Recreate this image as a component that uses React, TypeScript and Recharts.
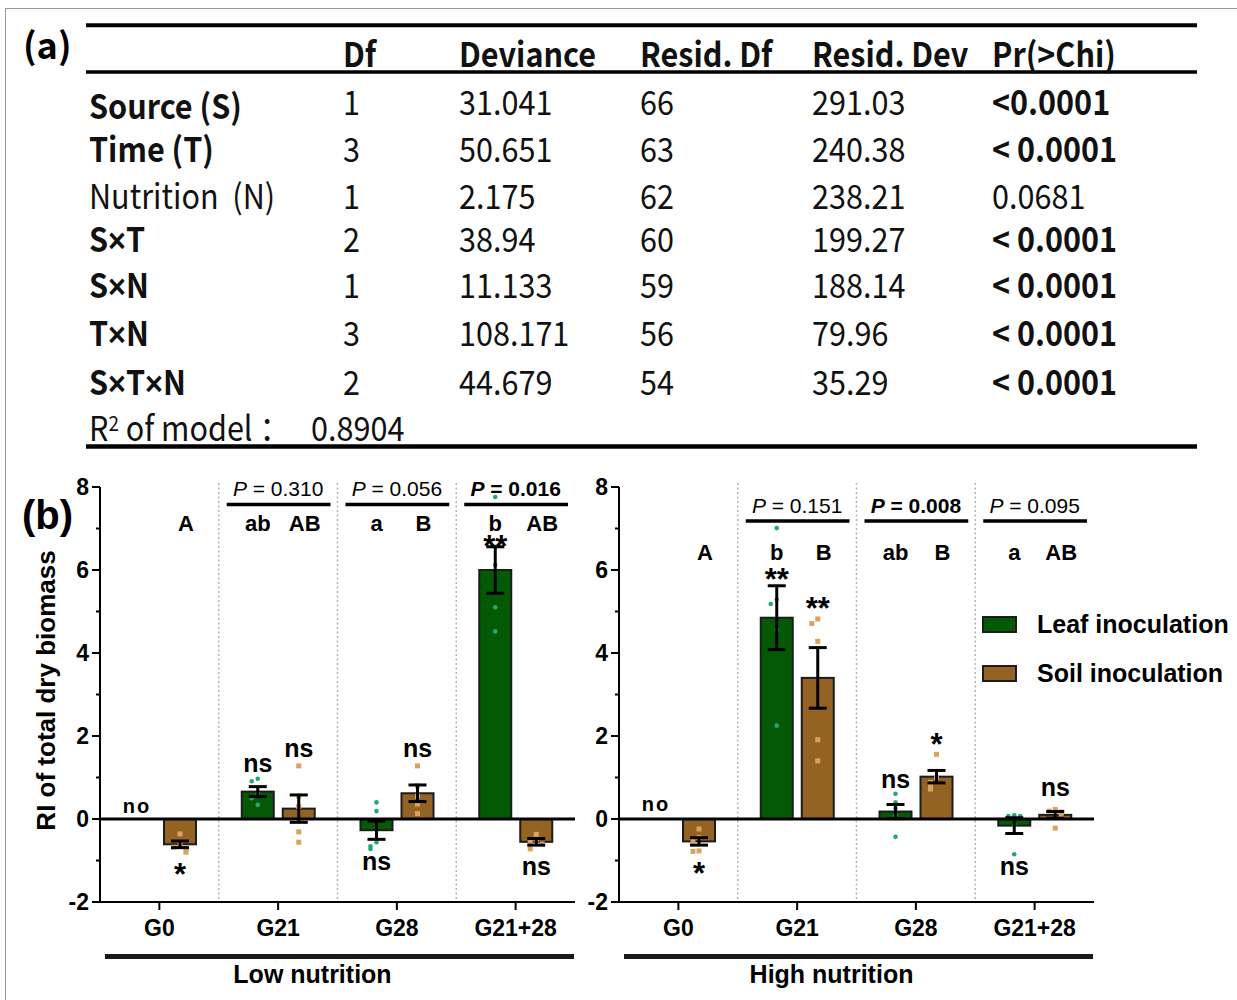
import React from 'react';
import { BarChart, Bar, XAxis, YAxis, ErrorBar, ReferenceLine, ReferenceArea, Legend } from 'recharts';

const CHART_FONT = '"Liberation Sans", Arial, Helvetica, sans-serif';
const TABLE_FONT = '"Noto Sans CJK SC", "Noto Sans", sans-serif';

// ---------- panel (b) data ----------
const groups = ['G0', 'G21', 'G28', 'G21+28'];
const seriesNames = ['Leaf inoculation', 'Soil inoculation'];
const leafColor = '#045a04';
const soilColor = '#946222';
const leafDotColor = '#22a673';
const soilDotColor = '#d9a35e';
const yTicks = [-2, -1, 0, 1, 2, 3, 4, 5, 6, 7, 8];
const Y_MIN = -2;
const Y_MAX = 8;

// Low nutrition
const lowLeafMean = [0, 0.66, -0.27, 6.0];
const lowLeafSE = [0, 0.12, 0.22, 0.56];
const lowSoilMean = [-0.61, 0.25, 0.62, -0.55];
const lowSoilSE = [0.08, 0.33, 0.2, 0.08];
const lowLeafPoints = [[], [0.97, 0.91, 0.61, 0.5, 0.34], [0.4, 0.19, -0.56, -0.66, -0.72], [7.76, 6.56, 6.12, 5.1, 4.52]];
const lowSoilPoints = [[-0.36, -0.6, -0.68, -0.72, -0.8], [1.28, 0.55, 0.3, -0.31, -0.56], [1.28, 0.8, 0.55, 0.36, 0.13], [-0.37, -0.5, -0.55, -0.6, -0.72]];
const lowLeafSig = ['no', 'ns', 'ns', '**'];
const lowLeafSigY = [0.27, 1.3, -1.07, 6.72];
const lowSoilSig = ['*', 'ns', 'ns', 'ns'];
const lowSoilSigY = [-1.17, 1.66, 1.66, -1.17];
const lowLeafLetters = ['', 'ab', 'a', 'b'];
const lowSoilLetters = ['A', 'AB', 'B', 'AB'];
const lowLetterY = 6.93;
const lowPValues = ['', '0.310', '0.056', '0.016'];
const lowPBold = [false, false, false, true];
const lowPLineY = 7.58;

// High nutrition
const highLeafMean = [0, 4.85, 0.18, -0.16];
const highLeafSE = [0, 0.77, 0.17, 0.19];
const highSoilMean = [-0.54, 3.4, 1.02, 0.1];
const highSoilSE = [0.09, 0.73, 0.15, 0.08];
const highLeafPoints = [[], [7.01, 5.29, 5.18, 4.56, 2.25], [0.61, 0.4, 0.26, 0.09, -0.43], [0.09, 0.07, 0.07, -0.16, -0.85]];
const highSoilPoints = [[-0.24, -0.45, -0.53, -0.77, -0.78], [4.82, 4.71, 4.28, 1.91, 1.4], [1.56, 1.0, 0.88, 0.8, 0.72], [0.23, 0.19, 0.17, 0.1, -0.22]];
const highLeafSig = ['no', '**', 'ns', 'ns'];
const highLeafSigY = [0.32, 5.92, 0.92, -1.18];
const highSoilSig = ['*', '**', '*', 'ns'];
const highSoilSigY = [-1.16, 5.22, 1.94, 0.72];
const highLeafLetters = ['', 'b', 'ab', 'a'];
const highSoilLetters = ['A', 'B', 'B', 'AB'];
const highLetterY = 6.25;
const highPValues = ['', '0.151', '0.008', '0.095'];
const highPBold = [false, false, true, false];
const highPLineY = 7.18;

// ---------- panel (a) table ----------
const tableHeaders = ['', 'Df', 'Deviance', 'Resid. Df', 'Resid. Dev', 'Pr(>Chi)'];
const termLabels = ['Source (S)', 'Time (T)', 'Nutrition  (N)', 'S×T', 'S×N', 'T×N', 'S×T×N'];
const termBold = [true, true, false, true, true, true, true];
const dfValues = ['1', '3', '1', '2', '1', '3', '2'];
const devianceValues = ['31.041', '50.651', '2.175', '38.94', '11.133', '108.171', '44.679'];
const residDfValues = ['66', '63', '62', '60', '59', '56', '54'];
const residDevValues = ['291.03', '240.38', '238.21', '199.27', '188.14', '79.96', '35.29'];
const chiValues = ['<0.0001', '< 0.0001', '0.0681', '< 0.0001', '< 0.0001', '< 0.0001', '< 0.0001'];
const chiBold = [true, true, false, true, true, true, true];
const r2Value = '0.8904';

// ---------- helpers ----------
function makeToY(props: any, mean: number) {
  const bg = props.background;
  if (bg && typeof bg.y === 'number' && bg.height) {
    return (v: number) => bg.y + ((Y_MAX - v) / (Y_MAX - Y_MIN)) * bg.height;
  }
  const { y, height } = props;
  const top = Math.min(y, y + height);
  const bottom = Math.max(y, y + height);
  const h = Math.abs(height);
  const zeroY = mean >= 0 ? bottom : top;
  const ppu = mean !== 0 && h > 0 ? h / Math.abs(mean) : 41.5;
  return (v: number) => zeroY - v * ppu;
}

function sigText(label: string, cx: number, centerPx: number, key: string) {
  const isStar = label.includes('*');
  const isNo = label === 'no';
  const fs = isStar ? 31 : isNo ? 20 : 25;
  const base = isStar ? centerPx + 17 : isNo ? centerPx + 5.5 : centerPx + 7;
  return (
    <text key={key} x={cx + (isNo ? -2 : 0)} y={base} textAnchor="middle"
      style={{ fontFamily: CHART_FONT, fontWeight: 700, fontSize: fs, letterSpacing: isNo ? 2 : 0 }} fill="#000">{label}</text>
  );
}

function makeBarShape(fill: string, dotColor: string, square: boolean, means: number[], points: number[][],
  sig: string[], sigY: number[], letters: string[], letterY: number, letterDx: number) {
  return (props: any) => {
    const { x, y, width, height, index } = props;
    const mean = means[index];
    const toY = makeToY(props, mean);
    const cx = x + width / 2;
    const top = Math.min(y, y + height);
    const h = Math.abs(height);
    const placed: { y: number }[] = [];
    const offs = [0, -6, 6, -12, 12];
    const dots = (points[index] || []).map((v, k) => {
      const py = toY(v);
      const near = placed.filter((q) => Math.abs(q.y - py) < 5).length;
      placed.push({ y: py });
      const px = cx + offs[Math.min(near, offs.length - 1)];
      return square
        ? <rect key={'d' + k} x={px - 2.5} y={py - 2.5} width={5} height={5} fill={dotColor} />
        : <circle key={'d' + k} cx={px} cy={py} r={2.3} fill={dotColor} />;
    });
    return (
      <g>
        {h > 0.5 && <rect x={x} y={top} width={width} height={h} fill={fill} stroke="#1c1c1c" strokeWidth={2} />}
        {dots}
        {sig[index] ? sigText(sig[index], cx, toY(sigY[index]), 's') : null}
        {letters[index] ? (
          <text x={cx + letterDx} y={toY(letterY)} textAnchor="middle"
            style={{ fontFamily: CHART_FONT, fontWeight: 700, fontSize: 22 }} fill="#000">{letters[index]}</text>
        ) : null}
      </g>
    );
  };
}

const SeparatorShape = (props: any) => {
  const { x, y, height } = props;
  return <line x1={x} x2={x} y1={y - 4} y2={y + height} stroke="#b3b3b3" strokeWidth={1.5} strokeDasharray="2 2.5" />;
};

function makePShape(value: string, bold: boolean) {
  return (props: any) => {
    const { x, y, width, height } = props;
    const ly = y + height;
    return (
      <g>
        <line x1={x + 8} x2={x + width - 7} y1={ly} y2={ly} stroke="#000" strokeWidth={3.5} />
        <text x={x + width / 2} y={ly - 8} textAnchor="middle"
          style={{ fontFamily: CHART_FONT, fontSize: 21, fontWeight: bold ? 700 : 400 }} fill="#000">
          <tspan style={{ fontStyle: 'italic' }}>P</tspan>{' = ' + value}
        </text>
      </g>
    );
  };
}

const XTick = (props: any) => {
  const { x, y, payload } = props;
  return (
    <text x={x} y={y} dy={24} textAnchor="middle" style={{ fontFamily: CHART_FONT, fontWeight: 700, fontSize: 23 }} fill="#000">
      {payload.value}
    </text>
  );
};

const YTick = (props: any) => {
  const { x, y, payload } = props;
  const v = Number(payload.value);
  const axisX = x + 12;
  const major = v % 2 === 0;
  return (
    <g>
      <line x1={axisX - (major ? 8 : 4)} x2={axisX} y1={y} y2={y} stroke="#000" strokeWidth={2} />
      {major && (
        <text x={x + 1} y={y + 8} textAnchor="end"
          style={{ fontFamily: CHART_FONT, fontWeight: 700, fontSize: '23px' }} fill="#000">
          {String(v)}
        </text>
      )}
    </g>
  );
};

function makeGroupLabel(text: string) {
  return (props: any) => {
    const vb = props.viewBox && typeof props.viewBox.x === 'number' ? props.viewBox : { x: 100, y: 902, width: 475, height: 98 };
    return (
      <g>
        <rect x={vb.x + 5} y={vb.y + 52} width={vb.width - 6} height={5} fill="#1a1a1a" />
        <text x={vb.x + vb.width / 2 - 25} y={vb.y + 81} textAnchor="middle"
          style={{ fontFamily: CHART_FONT, fontWeight: 700, fontSize: 25 }} fill="#000">{text}</text>
      </g>
    );
  };
}

const YLabel = (props: any) => {
  const vb = props.viewBox && typeof props.viewBox.x === 'number' ? props.viewBox : { x: 20, y: 487, width: 80, height: 415 };
  const cx = vb.x + 26;
  const cy = vb.y + vb.height / 2 - 4;
  return (
    <text x={cx} y={cy} transform={`rotate(-90 ${cx} ${cy})`} textAnchor="middle" dominantBaseline="central"
      style={{ fontFamily: CHART_FONT, fontWeight: 700, fontSize: 26 }} fill="#000">RI of total dry biomass</text>
  );
};

const renderLegend = (props: any) => {
  const items = props.payload || [];
  return (
    <div style={{ fontFamily: CHART_FONT, fontWeight: 700, fontSize: 25, color: '#000' }}>
      {items.map((it: any, i: number) => (
        <div key={i} style={{ display: 'flex', alignItems: 'center', height: 17, marginBottom: i === 0 ? 32 : 0, whiteSpace: 'nowrap' }}>
          <span style={{ display: 'inline-block', width: 35, height: 17, boxSizing: 'border-box', background: it.color, border: '2px solid #1c1c1c' }} />
          <span style={{ marginLeft: 20, lineHeight: '17px' }}>{it.value}</span>
        </div>
      ))}
    </div>
  );
};

type PanelCfg = {
  leafMean: number[]; leafSE: number[]; soilMean: number[]; soilSE: number[];
  leafPoints: number[][]; soilPoints: number[][];
  leafSig: string[]; leafSigY: number[]; soilSig: string[]; soilSigY: number[];
  leafLetters: string[]; soilLetters: string[]; letterY: number;
  pValues: string[]; pBold: boolean[]; pLineY: number; groupLabel: string;
};

const lowPanel: PanelCfg = {
  leafMean: lowLeafMean, leafSE: lowLeafSE, soilMean: lowSoilMean, soilSE: lowSoilSE,
  leafPoints: lowLeafPoints, soilPoints: lowSoilPoints,
  leafSig: lowLeafSig, leafSigY: lowLeafSigY, soilSig: lowSoilSig, soilSigY: lowSoilSigY,
  leafLetters: lowLeafLetters, soilLetters: lowSoilLetters, letterY: lowLetterY,
  pValues: lowPValues, pBold: lowPBold, pLineY: lowPLineY, groupLabel: 'Low nutrition',
};
const highPanel: PanelCfg = {
  leafMean: highLeafMean, leafSE: highLeafSE, soilMean: highSoilMean, soilSE: highSoilSE,
  leafPoints: highLeafPoints, soilPoints: highSoilPoints,
  leafSig: highLeafSig, leafSigY: highLeafSigY, soilSig: highSoilSig, soilSigY: highSoilSigY,
  leafLetters: highLeafLetters, soilLetters: highSoilLetters, letterY: highLetterY,
  pValues: highPValues, pBold: highPBold, pLineY: highPLineY, groupLabel: 'High nutrition',
};

function Panel({ p, width, marginRight, showYLabel, showLegend }: { p: PanelCfg; width: number; marginRight: number; showYLabel: boolean; showLegend: boolean }) {
  const data = groups.map((g, i) => ({
    group: g,
    leaf: p.leafMean[i],
    leafSE: p.leafSE[i] ? p.leafSE[i] : null,
    soil: p.soilMean[i],
    soilSE: p.soilSE[i] ? p.soilSE[i] : null,
  }));
  return (
    <BarChart width={width} height={560} data={data} margin={{ top: 47, right: marginRight, bottom: 0, left: 20 }}
      barSize={32} barGap={9}>
      {groups.slice(1).map((g) => (
        <ReferenceArea key={'sep' + g} x1={g} x2={g} y1={Y_MIN} y2={Y_MAX} ifOverflow="visible" shape={SeparatorShape} />
      ))}
      {groups.map((g, i) => (p.pValues[i] ? (
        <ReferenceArea key={'p' + g} x1={g} x2={g} y1={p.pLineY} y2={Y_MAX} ifOverflow="visible" shape={makePShape(p.pValues[i], p.pBold[i])} />
      ) : null))}
      <XAxis dataKey="group" type="category" interval={0} height={98} tickSize={8} tickMargin={2}
        tick={<XTick />} tickLine={{ stroke: '#000', strokeWidth: 2 }} axisLine={{ stroke: '#000', strokeWidth: 2 }}
        label={makeGroupLabel(p.groupLabel)} />
      <YAxis type="number" domain={[Y_MIN, Y_MAX]} ticks={yTicks} interval={0} width={80} tickSize={8} tickMargin={4}
        tickLine={false} tick={<YTick />} axisLine={{ stroke: '#000', strokeWidth: 2 }}
        label={showYLabel ? YLabel : undefined} />
      <ReferenceLine y={0} stroke="#000" strokeWidth={3} ifOverflow="visible" />
      <Bar dataKey="leaf" name={seriesNames[0]} fill={leafColor} isAnimationActive={false}
        shape={makeBarShape(leafColor, leafDotColor, false, p.leafMean, p.leafPoints, p.leafSig, p.leafSigY, p.leafLetters, p.letterY, 0)}>
        <ErrorBar dataKey="leafSE" width={9} strokeWidth={3} stroke="#000" direction="y" />
      </Bar>
      <Bar dataKey="soil" name={seriesNames[1]} fill={soilColor} isAnimationActive={false}
        shape={makeBarShape(soilColor, soilDotColor, true, p.soilMean, p.soilPoints, p.soilSig, p.soilSigY, p.soilLetters, p.letterY, 6)}>
        <ErrorBar dataKey="soilSE" width={9} strokeWidth={3} stroke="#000" direction="y" />
      </Bar>
      {showLegend && (
        <Legend layout="vertical" align="center" verticalAlign="middle" content={renderLegend}
          wrapperStyle={{ left: 463, top: 176, width: 280 }} />
      )}
    </BarChart>
  );
}

// table text: CJK sans, compressed horizontally to match the narrow original face
const TT = ({ x, y, bold, children }: { x: number; y: number; bold?: boolean; children: any }) => (
  <text x={x} y={y} transform={`translate(${x} 0) scale(0.9 1) translate(${-x} 0)`}
    style={{ fontFamily: TABLE_FONT, fontSize: 34, fontWeight: bold ? 700 : 400, whiteSpace: 'pre' }} fill="#111">
    {children}
  </text>
);

function withTimes(label: string) {
  const parts = label.split('×');
  const out: any[] = [];
  parts.forEach((pt, i) => {
    if (i > 0) out.push(<tspan key={'x' + i} style={{ fontFamily: CHART_FONT }}>×</tspan>);
    out.push(<tspan key={'t' + i}>{pt}</tspan>);
  });
  return out;
}

function TableSvg() {
  const colX = [89, 343, 459, 640, 812, 992];
  const rowBase = [115, 162, 209, 252, 298, 346, 395];
  return (
    <svg width={1237} height={1000} style={{ position: 'absolute', left: 0, top: 0 }}>
      <line x1={5.5} x2={5.5} y1={8} y2={1000} stroke="#9a9a9a" strokeWidth={1} />
      <line x1={5} x2={1237} y1={8.5} y2={8.5} stroke="#9a9a9a" strokeWidth={1} />
      <text x={23} y={59} style={{ fontFamily: TABLE_FONT, fontWeight: 700, fontSize: 36 }} fill="#000">(a)</text>
      <line x1={86} x2={1197} y1={25.3} y2={25.3} stroke="#000" strokeWidth={4} />
      <line x1={86} x2={1197} y1={72} y2={72} stroke="#000" strokeWidth={3.5} />
      <line x1={86} x2={1197} y1={446.5} y2={446.5} stroke="#000" strokeWidth={4.5} />
      {tableHeaders.map((h, i) => (h ? <TT key={'h' + i} x={colX[i]} y={67} bold>{h}</TT> : null))}
      {termLabels.map((t, r) => (
        <g key={'r' + r}>
          <TT x={colX[0]} y={rowBase[r] + (r === 0 ? 4 : 0)} bold={termBold[r]}>{withTimes(t)}</TT>
          <TT x={colX[1]} y={rowBase[r]}>{dfValues[r]}</TT>
          <TT x={colX[2]} y={rowBase[r]}>{devianceValues[r]}</TT>
          <TT x={colX[3]} y={rowBase[r]}>{residDfValues[r]}</TT>
          <TT x={colX[4]} y={rowBase[r]}>{residDevValues[r]}</TT>
          <TT x={colX[5]} y={rowBase[r]} bold={chiBold[r]}>{chiValues[r]}</TT>
        </g>
      ))}
      <TT x={89} y={441}>
        R<tspan style={{ fontSize: 21 }} dy={-10}>2</tspan><tspan dy={10}>{' of model ：'}</tspan>
      </TT>
      <TT x={311} y={441}>{r2Value}</TT>
      <text x={22} y={529} style={{ fontFamily: CHART_FONT, fontWeight: 700, fontSize: 40 }} fill="#000">(b)</text>
    </svg>
  );
}

export default function App() {
  return (
    <div style={{ position: 'absolute', left: 0, top: 0, width: 1237, height: 1000, background: '#fff', overflow: 'hidden', fontFamily: CHART_FONT }}>
      <TableSvg />
      <div style={{ position: 'absolute', left: 0, top: 440, width: 600, height: 560 }}>
        <Panel p={lowPanel} width={600} marginRight={25} showYLabel={true} showLegend={false} />
      </div>
      <div style={{ position: 'absolute', left: 519, top: 440, width: 718, height: 560 }}>
        <Panel p={highPanel} width={718} marginRight={143} showYLabel={false} showLegend={true} />
      </div>
    </div>
  );
}
